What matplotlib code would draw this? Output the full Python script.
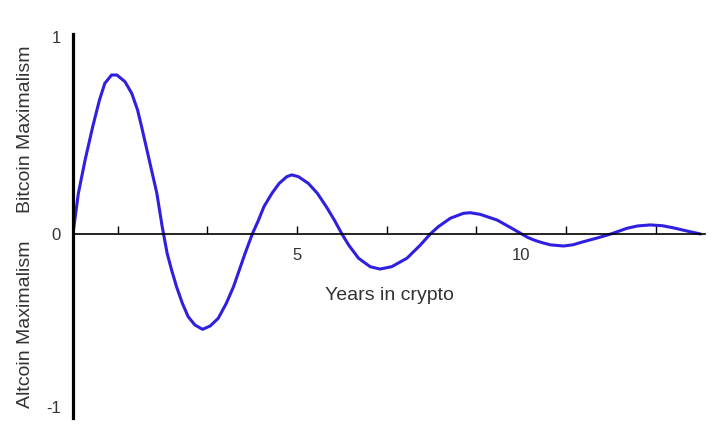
import matplotlib
matplotlib.use('Agg')
import matplotlib.pyplot as plt

plt.rcParams['font.family'] = ['Liberation Sans', 'DejaVu Sans']

# curve: years vs. maximalism
years = [0.0, 0.02, 0.12, 0.27, 0.44, 0.59, 0.71, 0.86, 0.98, 1.16, 1.31, 1.44,
         1.53, 1.70, 1.87, 1.99,
         2.10, 2.20, 2.31, 2.44, 2.57, 2.72, 2.89, 3.06, 3.24, 3.42, 3.58, 3.71,
         3.84, 4.0,
         4.14, 4.26, 4.44, 4.60, 4.77, 4.88, 5.03, 5.25, 5.45, 5.65, 5.83, 6.0,
         6.15, 6.37, 6.63, 6.85, 7.11, 7.45, 7.75, 7.97,
         8.15, 8.42, 8.71, 8.86, 9.08, 9.46, 9.79, 10.01,
         10.15, 10.3, 10.45, 10.65, 10.94, 11.15, 11.39, 11.7, 12.0,
         12.36, 12.6, 12.88, 13.15, 13.4, 13.7, 14.0]
maximalism = [0.0, 0.037, 0.207, 0.376, 0.545, 0.68, 0.765, 0.807, 0.807, 0.773,
              0.714, 0.63, 0.545, 0.376, 0.207, 0.037,
              -0.098, -0.183, -0.268, -0.352, -0.42, -0.462, -0.484, -0.467, -0.428,
              -0.352, -0.268, -0.183, -0.098, 0.0,
              0.071, 0.139, 0.207, 0.257, 0.291, 0.30, 0.291, 0.257, 0.207, 0.139,
              0.071, 0.0,
              -0.056, -0.123, -0.166, -0.178, -0.166, -0.123, -0.056, 0.0,
              0.037, 0.08, 0.105, 0.108, 0.10, 0.071, 0.029, 0.0,
              -0.018, -0.032, -0.043, -0.055, -0.061, -0.055, -0.039, -0.02, 0.0,
              0.029, 0.041, 0.046, 0.042, 0.031, 0.015, 0.0]

# tick positions / labels (the "-1" label sits a bit above a true -1 in the original)
ytick_pos = [1, 0, -0.88]
ytick_labels = ['1', '0', '-1']
xtick_marks = [1, 3, 5, 7, 9, 11, 13]
xlabel_pos = [5, 10]
xlabel_text = ['5', '10']

fig = plt.figure(figsize=(7.25, 4.48), dpi=100)
ax = fig.add_axes([0.1007, 0.067, 0.8717, 0.857])

ax.plot(years, maximalism, color='#2f1fe0', lw=2.2, solid_joinstyle='round',
        solid_capstyle='round')

ax.set_xlim(0, 14.1)
ax.set_ylim(-0.934, 1.015)

ax.spines['top'].set_visible(False)
ax.spines['right'].set_visible(False)
ax.spines['left'].set_linewidth(2.3)
ax.spines['left'].set_position(('data', 0))
ax.spines['bottom'].set_position(('data', 0))
ax.spines['bottom'].set_linewidth(1.2)

ax.set_yticks(ytick_pos)
ax.set_yticklabels(ytick_labels)
ax.tick_params(axis='y', length=0, pad=9, labelsize=12, labelcolor='#333333')

# tick marks on odd years, number labels only at 5 and 10
ax.xaxis.remove_overlapping_locs = False
ax.set_xticks(xtick_marks)
ax.set_xticklabels([''] * len(xtick_marks))
ax.tick_params(axis='x', which='major', direction='in', length=6, width=1)
ax.set_xticks(xlabel_pos, minor=True)
ax.set_xticklabels(xlabel_text, minor=True)
ax.tick_params(axis='x', which='minor', length=0, pad=10, labelsize=12,
               labelcolor='#333333')

ax.text(0.5, 0.318, 'Years in crypto', transform=ax.transAxes, ha='center',
        va='center', fontsize=14, color='#333333')

fig.text(26 / 725, 1 - 129 / 448, 'Bitcoin Maximalism', rotation=90,
         ha='center', va='center', fontsize=14, color='#333333')
fig.text(26 / 725, 1 - 324 / 448, 'Altcoin Maximalism', rotation=90,
         ha='center', va='center', fontsize=14, color='#333333')

fig.savefig('out.png', dpi=100)
